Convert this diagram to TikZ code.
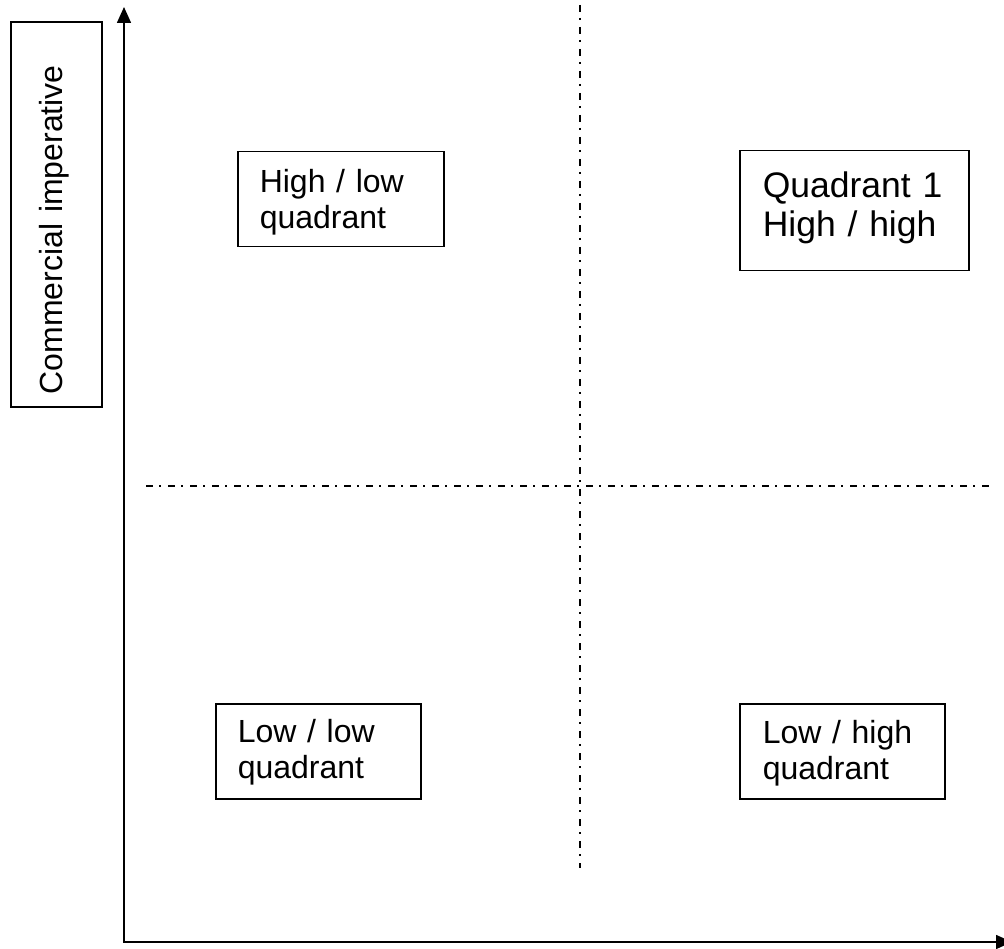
\documentclass[tikz,border=0pt]{standalone}
\usepackage{fontspec}
\setmainfont{Liberation Sans}
\usetikzlibrary{arrows.meta}
\tikzset{
    x=1pt, y=-1pt,
    >={Triangle[length=16pt, width=14pt]},
    quadbox/.style={draw, line width=1.5pt, anchor=north west, inner ysep=0pt, align=left,
        font=\fontsize{32}{35.5}\selectfont},
    axis/.style={<->, line width=1.6pt},
    split/.style={line width=1.7pt, dash pattern=on 7pt off 6pt on 2pt off 7pt},
}
\begin{document}
\begin{tikzpicture}
        \clip (0,0) rectangle (1004,949);

        \node[quadbox, rotate=90, inner xsep=13pt, text width=359pt, text height=52pt, text depth=39pt] (ci) at (10,408) {Commercial imperative};
        \node[quadbox, inner xsep=22pt, text width=162pt, text height=41pt, text depth=54pt] (hl) at (237,151) {High / low\\quadrant};
        \node[quadbox, inner xsep=23pt, text width=183pt, text height=47pt, text depth=73pt, font=\fontsize{35.5}{39}\selectfont] (q1) at (739,150) {Quadrant 1\\High / high};
        \node[quadbox, inner xsep=22pt, text width=161pt, text height=39pt, text depth=56pt] (ll) at (215,703) {Low / low\\quadrant};
        \node[quadbox, inner xsep=23pt, text width=159pt, text height=40pt, text depth=55pt] (lh) at (739,703) {Low / high\\quadrant};

        \coordinate (o) at (124,942);
        \coordinate (ytop) at (124,7);
        \coordinate (xend) at (1012,942);
        \coordinate (vtop) at (580,5);
        \coordinate (vbot) at (580,868);
        \coordinate (hleft) at (146,486);
        \coordinate (hright) at (990,486);

        \draw[axis] (ytop) -- (o) -- (xend);
        \draw[split] (vtop) -- (vbot);
        \draw[split] (hleft) -- (hright);
    \end{tikzpicture}
\end{document}
